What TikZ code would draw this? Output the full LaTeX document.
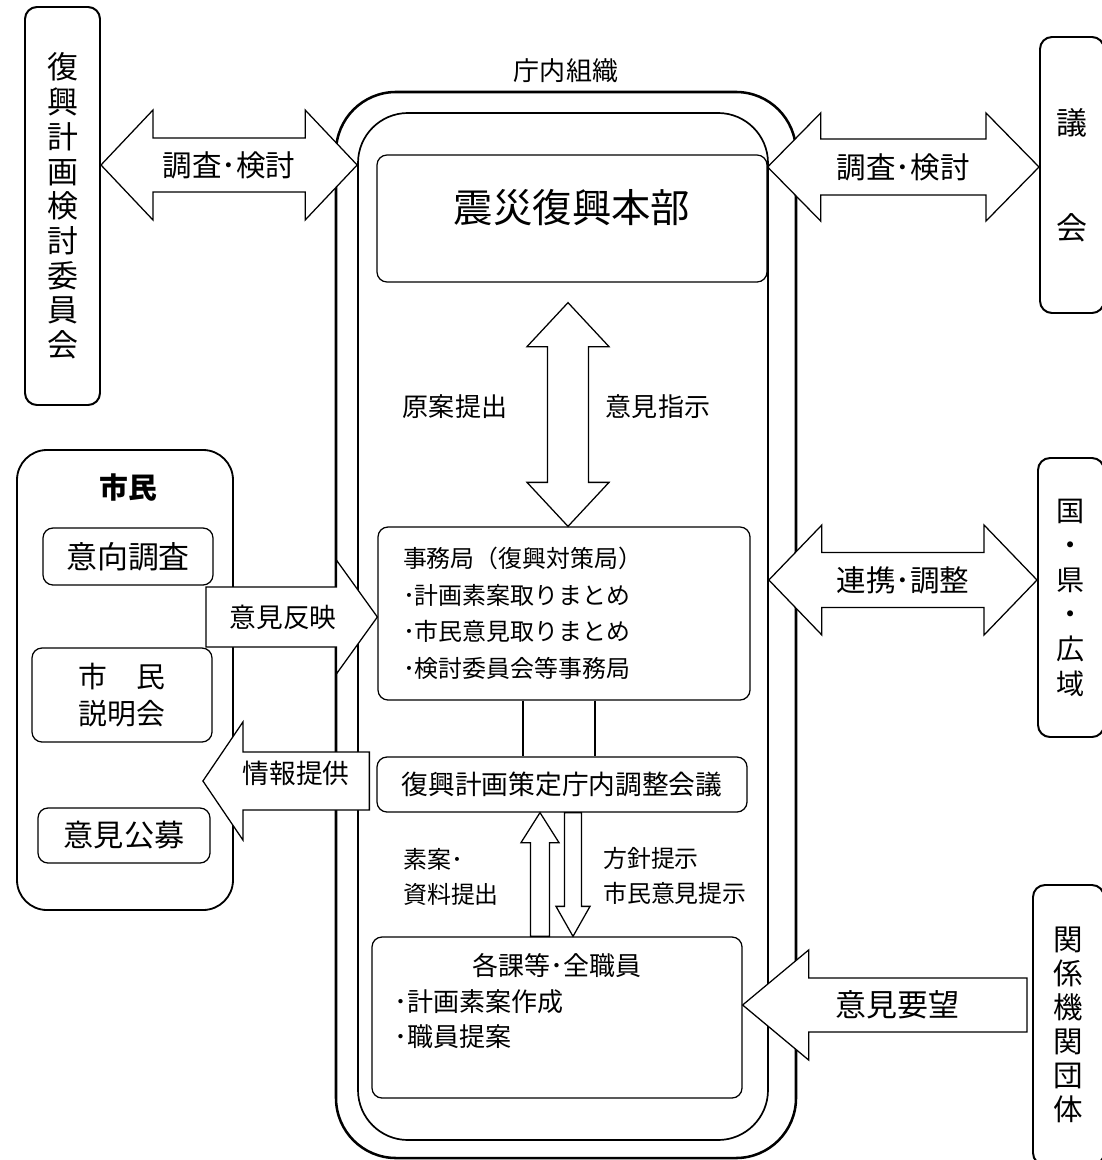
\documentclass[tikz,border=0pt]{standalone}
\usepackage{fontspec}
\setmainfont{Noto Sans CJK JP}
\usetikzlibrary{calc,positioning}

\tikzset{
  box/.style={draw,rounded corners=2.5mm,line width=0.9pt,inner sep=0pt},
  sidebox/.style={draw,rounded corners=3mm,line width=1.4pt,inner sep=0pt,align=center},
  blockarr/.style={draw,fill=white,line width=0.9pt},
  lbl/.style={inner sep=0pt,font=\fontsize{19}{23}\selectfont},
}

% tip, tip, shaft half width, head half width, head length
\newcommand\dblarrowh[5]{\draw[blockarr] (#1) -- ++(#5,-#4) -- ++(0,#4-#3) -- ($(#2)+(-#5,-#3)$) -- ++(0,#3-#4)
  -- (#2) -- ++(-#5,#4) -- ++(0,#3-#4) -- ($(#1)+(#5,#3)$) -- ++(0,#4-#3) -- cycle;}
\newcommand\dblarrowv[5]{\draw[blockarr] (#1) -- ++(-#4,#5) -- ++(#4-#3,0) -- ($(#2)+(-#3,-#5)$) -- ++(#3-#4,0)
  -- (#2) -- ++(#4,-#5) -- ++(#3-#4,0) -- ($(#1)+(#3,#5)$) -- ++(#4-#3,0) -- cycle;}
% tail, tip, shaft half width, head half width, head length (negative = other way)
\newcommand\sarrowh[5]{\draw[blockarr] ($(#1)+(0,-#3)$) -- ($(#2)+({-(#5)},-#3)$) -- ++(0,#3-#4) -- (#2)
  -- ++({-(#5)},#4) -- ++(0,#3-#4) -- ($(#1)+(0,#3)$) -- cycle;}
\newcommand\sarrowv[5]{\draw[blockarr] ($(#1)+(-#3,0)$) -- ($(#2)+(-#3,{-(#5)})$) -- ++(#3-#4,0) -- (#2)
  -- ++(#4,{-(#5)}) -- ++(#3-#4,0) -- ($(#1)+(#3,0)$) -- cycle;}

\begin{document}
\begin{tikzpicture}[x=0.25mm,y=-0.25mm]
\useasboundingbox (0,0) rectangle (1101,1160);

% outside bodies
\node[sidebox,minimum width=18.75mm,minimum height=99.5mm,font=\fontsize{22}{24.7}\selectfont] (komi) at (62.5,206)
  {復\\興\\計\\画\\検\\討\\委\\員\\会};
\node[sidebox,minimum width=16mm,minimum height=69mm,font=\fontsize{22}{74.7}\selectfont] (gikai) at (1072,175) {議\\会};
\node[sidebox,minimum width=16.5mm,minimum height=69.75mm,font=\fontsize{20}{24.6}\selectfont] (kuni) at (1071,597.5)
  {国\\・\\県\\・\\広\\域};
\node[sidebox,minimum width=17.75mm,minimum height=70mm,font=\fontsize{21}{24.2}\selectfont] (kankei) at (1068.5,1025)
  {関\\係\\機\\関\\団\\体};

% citizens
\node[draw,rounded corners=7.5mm,line width=1.3pt,minimum width=54mm,minimum height=115mm] (shimin) at (125,680) {};
\node[inner sep=0pt,font=\bfseries\fontsize{20.5}{24}\selectfont] (shimintitle) at (128,488) {市民};
\node[box,minimum width=42.5mm,minimum height=14.25mm,font=\fontsize{22}{26}\selectfont] (ikou) at (128,556.5) {意向調査};
\node[box,minimum width=45mm,minimum height=23.5mm,align=center,font=\fontsize{20.5}{26}\selectfont] (setsumei) at (122,695)
  {市　民\\説明会};
\node[box,minimum width=43mm,minimum height=13.75mm,font=\fontsize{21.5}{26}\selectfont] (koubo) at (124,835.5) {意見公募};

% city hall
\node[draw,line width=1.8pt,rounded corners=15mm,minimum width=115mm,minimum height=266.5mm] (frout) at (566,625) {};
\node[draw,line width=1.2pt,rounded corners=12.5mm,minimum width=102.5mm,minimum height=256.75mm] (frin) at (563,626.5) {};
\node[lbl,font=\fontsize{18.5}{22}\selectfont,above=2mm of frout] (chounai) {庁内組織};

\node[box,minimum width=97.5mm,minimum height=31.75mm,font=\fontsize{28}{32}\selectfont] (honbu) at (572,218.5)
  {\raisebox{2.75mm}[\height][\depth]{震災復興本部}};
\node[box,minimum width=93mm,minimum height=43.25mm,text width=80.5mm,inner xsep=6.25mm,align=left,
  font=\fontsize{17}{26}\selectfont] (jimu) at (564,613.5)
  {事務局（復興対策局）\\･計画素案取りまとめ\\･市民意見取りまとめ\\･検討委員会等事務局};
\node[box,minimum width=92.5mm,minimum height=13.75mm,font=\fontsize{19}{23}\selectfont] (chousei) at (562,784.5)
  {復興計画策定庁内調整会議};
\node[box,minimum width=92.5mm,minimum height=40.25mm] (kaka) at (557,1017.5) {};
\node[anchor=north west,text width=81mm,align=left,inner sep=0pt,font=\fontsize{18.5}{25.3}\selectfont] (kakatext)
  at ($(kaka.north west)+(23,17)$) {\makebox[\linewidth]{各課等･全職員}\\･計画素案作成\\･職員提案};

\draw[line width=0.9pt] (jimu.south -| 523,0) -- (chousei.north -| 523,0);
\draw[line width=0.9pt] (jimu.south -| 595,0) -- (chousei.north -| 595,0);

% block arrows
\coordinate (a1l) at (komi.east |- 0,165);
\coordinate (a1r) at (frin.west |- 0,165);
\coordinate (a2l) at (honbu.east |- 0,167);
\coordinate (a2r) at (gikai.west |- 0,167);
\coordinate (a3t) at ($(honbu.south)+(-4,20)$);
\coordinate (a3b) at (jimu.north -| a3t);
\coordinate (a4t) at ($(shimin.east |- 0,617)+(-28,0)$);
\coordinate (a4p) at (jimu.west |- 0,617);
\coordinate (a5t) at ($(chousei.west |- 0,781)+(-7,0)$);
\coordinate (a5p) at ($(shimin.east |- 0,781)+(-31,0)$);
\coordinate (a6l) at (frin.east |- 0,580);
\coordinate (a6r) at (kuni.west |- 0,580);
\coordinate (a7t) at ($(kankei.west |- 0,1005)+(-5,0)$);
\coordinate (a7p) at (kaka.east |- 0,1005);
\coordinate (a8t) at (kaka.north -| 540,0);
\coordinate (a8p) at (chousei.south -| 540,0);
\coordinate (a9t) at (chousei.south -| 573,0);
\coordinate (a9p) at (kaka.north -| 573,0);

\dblarrowh{a1l}{a1r}{27}{55}{52}
\dblarrowh{a2l}{a2r}{28}{54}{53}
\dblarrowv{a3t}{a3b}{20.5}{41}{44}
\sarrowh{a4t}{a4p}{30}{57}{41}
\sarrowh{a5t}{a5p}{29}{59}{-40}
\dblarrowh{a6l}{a6r}{27.5}{55}{53}
\sarrowh{a7t}{a7p}{27}{55}{-66}
\sarrowv{a8t}{a8p}{9.5}{19}{-30}
\sarrowv{a9t}{a9p}{8.5}{17}{30}

% labels
\node[lbl,font=\fontsize{21}{25}\selectfont] (chousa1) at ($(a1l)!0.5!(a1r)$) {調査･検討};
\node[lbl,font=\fontsize{21}{25}\selectfont] (chousa2) at ($(a2l)!0.5!(a2r)$) {調査･検討};
\node[lbl,font=\fontsize{18.5}{22}\selectfont] (genan) at (455,407) {原案提出};
\node[lbl,font=\fontsize{18.5}{22}\selectfont] (shiji) at (658,407) {意見指示};
\node[lbl] (hanei) at ($(a4t)!0.45!(a4p)$) {意見反映};
\node[lbl,yshift=2mm] (teikyou) at ($(a5t)!0.44!(a5p)$) {情報提供};
\node[lbl,font=\fontsize{21}{25}\selectfont] (renkei) at ($(a6l)!0.5!(a6r)$) {連携･調整};
\node[lbl,font=\fontsize{22}{26}\selectfont] (youbou) at ($(a7t)!0.455!(a7p)$) {意見要望};
\node[lbl,align=left,anchor=west,font=\fontsize{17}{24.6}\selectfont] (soan) at (403,877) {素案･\\資料提出};
\node[lbl,align=left,anchor=west,font=\fontsize{17}{24.6}\selectfont] (houshin) at (603,876) {方針提示\\市民意見提示};
\end{tikzpicture}
\end{document}
